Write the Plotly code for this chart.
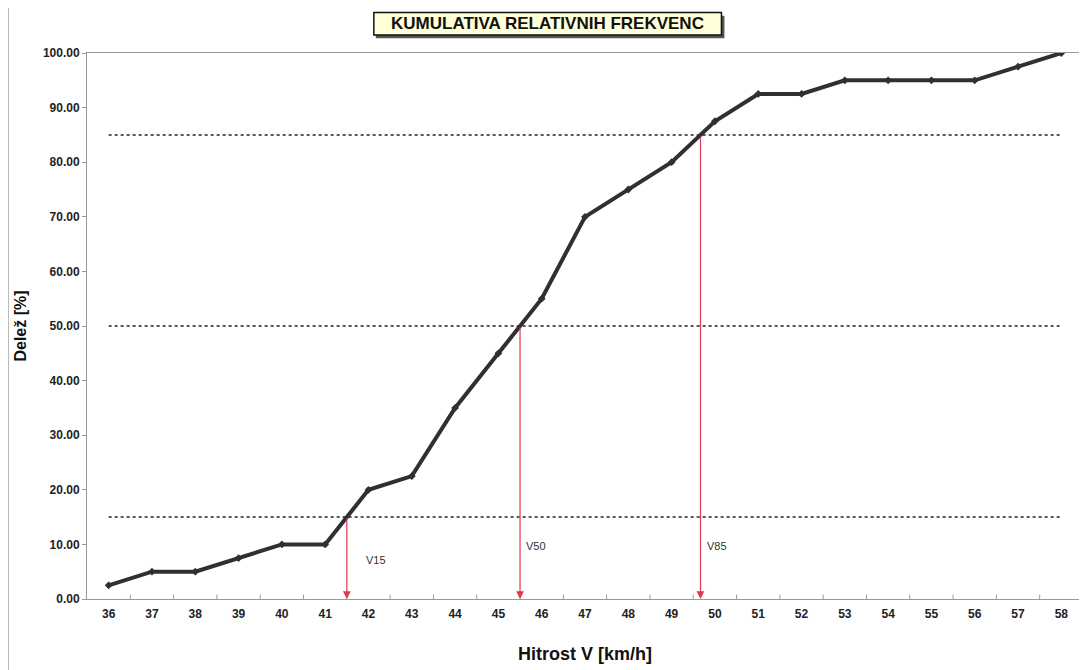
import plotly.graph_objects as go
import numpy as np

# hitrost (km/h) and cumulative relative frequency (%)
speeds = [36, 37, 38, 39, 40, 41, 42, 43, 44, 45, 46, 47,
          48, 49, 50, 51, 52, 53, 54, 55, 56, 57, 58]
cum_pct = [2.5, 5.0, 5.0, 7.5, 10.0, 10.0, 20.0, 22.5, 35.0, 45.0, 55.0, 70.0,
           75.0, 80.0, 87.5, 92.5, 92.5, 95.0, 95.0, 95.0, 95.0, 97.5, 100.0]
levels = [15, 50, 85]
level_names = ["V15", "V50", "V85"]
y_ticks = [0, 10, 20, 30, 40, 50, 60, 70, 80, 90, 100]

FONT = "Liberation Sans, Arial, sans-serif"

fig = go.Figure()

# dotted reference levels
for lv in levels:
    fig.add_trace(go.Scatter(x=[speeds[0], speeds[-1]], y=[lv, lv], mode="lines",
                             line=dict(color="#222", width=1.5, dash="dot"),
                             hoverinfo="skip", showlegend=False))

fig.add_trace(go.Scatter(x=speeds, y=cum_pct, mode="lines+markers",
                         line=dict(color="#303030", width=4),
                         marker=dict(symbol="diamond", size=6, color="#303030"),
                         showlegend=False))

# V15 / V50 / V85 from linear interpolation of the curve
for lv, name in zip(levels, level_names):
    v = float(np.interp(lv, cum_pct, speeds))
    fig.add_annotation(x=v, y=0, ax=v, ay=lv, xref="x", yref="y", axref="x", ayref="y",
                       showarrow=True, arrowhead=2, arrowsize=1.3, arrowwidth=1.2,
                       arrowcolor="#e0384f", text="")
    if name == "V15":
        fig.add_annotation(x=v + 0.4, y=7.2, text=name, showarrow=False, xanchor="left",
                           font=dict(family=FONT, size=11, color="#333"))
    else:
        fig.add_annotation(x=v + 0.1, y=9.7, text=name, showarrow=False, xanchor="left",
                           font=dict(family=FONT, size=11, color="#333"))

# boxed title with drop shadow
fig.add_shape(type="rect", xref="paper", yref="paper", x0=0.290, x1=0.640, y0=1.027, y1=1.068,
              fillcolor="#555", line=dict(width=0))
fig.add_shape(type="rect", xref="paper", yref="paper", x0=0.288, x1=0.637, y0=1.033, y1=1.074,
              fillcolor="#ffffd8", line=dict(color="#111", width=1.5))
fig.add_annotation(x=0.462, y=1.0535, xref="paper", yref="paper", text="<b>KUMULATIVA RELATIVNIH FREKVENC</b>",
                   showarrow=False, yanchor="middle",
                   font=dict(family=FONT, size=17, color="#111"))

# left border of the chart sheet
fig.add_shape(type="line", xref="paper", yref="paper", x0=-0.079, x1=-0.079, y0=-0.2, y1=1.2,
              line=dict(color="#bbb", width=1.5))

fig.update_layout(
    width=1079, height=662,
    paper_bgcolor="white", plot_bgcolor="white",
    margin=dict(l=79, r=4, t=45, b=71),
    font=dict(family=FONT, color="#222"),
    xaxis=dict(range=[35.5, 58.5], tickvals=speeds, ticktext=[str(s) for s in speeds],
               showgrid=False, zeroline=False, showline=True, linecolor="#999", linewidth=1, mirror=True,
               ticks="", ticklabelstandoff=4, tickfont=dict(size=12, weight="bold", color="#222"),
               title=dict(text="<b>Hitrost V [km/h]</b>", font=dict(size=18, color="#111"), standoff=26)),
    yaxis=dict(range=[0, 100], tickvals=y_ticks, tickformat=".2f",
               showgrid=False, zeroline=False, showline=True, linecolor="#999", linewidth=1, mirror=True,
               ticks="outside", ticklen=4, tickcolor="#999",
               tickfont=dict(size=12, weight="bold", color="#222"),
               title=dict(text="<b>Delež [%]</b>", font=dict(size=16, color="#111"), standoff=12)),
)

# small category separator ticks on the x axis
for s in speeds[:-1]:
    fig.add_shape(type="line", xref="x", yref="y", x0=s + 0.5, x1=s + 0.5, y0=0, y1=0.8,
                  line=dict(color="#999", width=1))

fig.write_html("out.html")
